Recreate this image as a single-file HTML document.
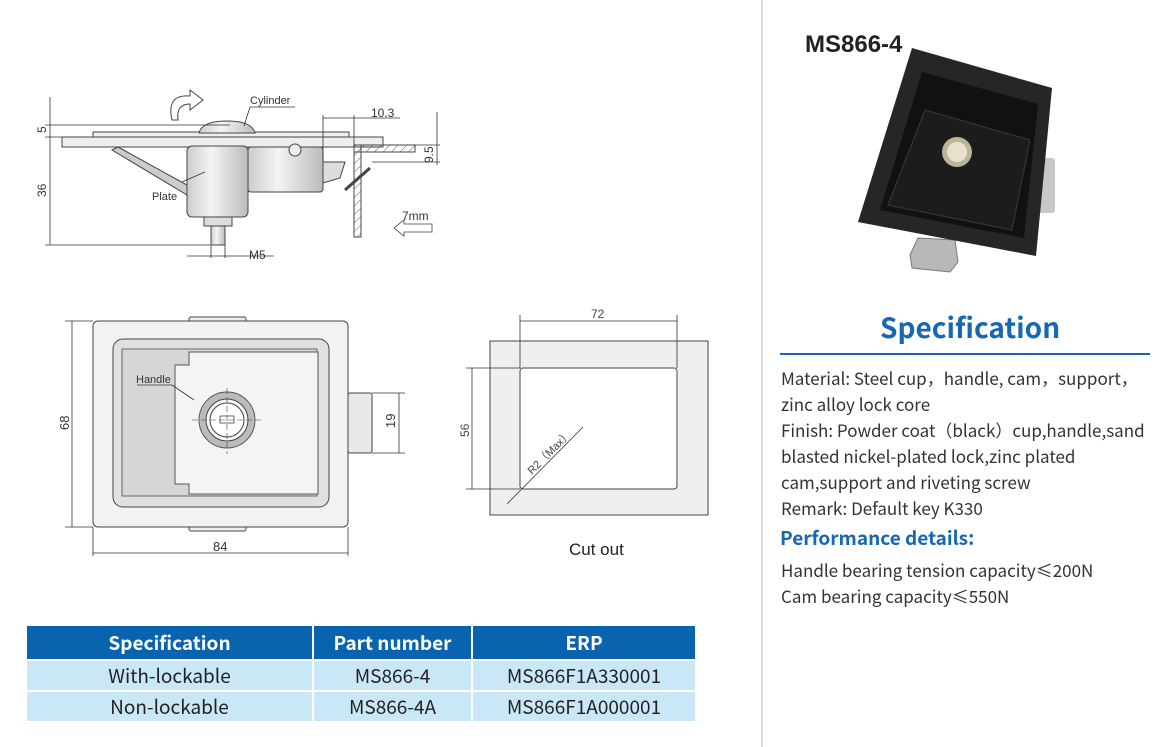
<!DOCTYPE html>
<html><head><meta charset="utf-8"><style>
body{margin:0;width:1158px;height:747px;background:#fff;overflow:hidden;position:relative;font-family:"Liberation Sans",sans-serif}
.t{position:absolute;white-space:nowrap}
.sp{left:781px;font-size:17px;color:#333;font-family:"Noto Sans CJK SC",sans-serif;line-height:22px}
table{position:absolute;left:27px;top:626px;border-collapse:separate;border-spacing:2px 2px;margin:-2px;font-family:"Noto Sans CJK SC",sans-serif}
td,th{padding:0;text-align:center;font-size:19px;line-height:20px}
th{background:#0a63af;color:#fff;font-weight:bold;height:33px}
td{background:#c9e7f7;color:#222;height:29px}
</style></head><body>
<div style="position:absolute;left:761px;top:0;width:2px;height:747px;background:#ddd"></div>

<svg width="760" height="600" style="position:absolute;left:0;top:0" font-family="Liberation Sans" font-size="11" fill="none" stroke="#444">
<defs><linearGradient id="g" x1="0" x2="1"><stop offset="0" stop-color="#ccc"/><stop offset=".4" stop-color="#f4f4f4"/><stop offset="1" stop-color="#bbb"/></linearGradient>
<pattern id="h" width="6" height="6" patternUnits="userSpaceOnUse" patternTransform="rotate(45)"><line x1="0" y1="0" x2="0" y2="6" stroke="#666" stroke-width="1"/></pattern></defs>
<rect x="93" y="132" width="256" height="5" fill="#eee"/>
<path d="M199 133 Q202 121 227 121 Q252 121 255 133Z" fill="url(#g)"/>
<rect x="62" y="137" width="321" height="10" fill="#eee"/>
<path d="M118 147 L187 185 L187 195 L112 150Z" fill="#ccc"/>
<rect x="248" y="147" width="75" height="45" fill="url(#g)" rx="3"/>
<circle cx="295" cy="150" r="6" fill="#eee"/>
<rect x="187" y="146" width="61" height="71" rx="5" fill="url(#g)"/>
<rect x="204" y="217" width="28" height="9" fill="#ddd"/>
<rect x="211" y="226" width="14" height="19" fill="url(#g)"/>
<path d="M323 162 L345 162 L340 178 L323 183Z" fill="#ddd"/>
<rect x="354" y="145" width="61" height="7" fill="url(#h)"/>
<rect x="354" y="145" width="7" height="92" fill="url(#h)"/>
<line x1="345" y1="190" x2="370" y2="168" stroke-width="3"/>
<g stroke="#333" stroke-width="0.8">
<line x1="50" y1="97" x2="50" y2="245"/><line x1="45" y1="125" x2="230" y2="125"/><line x1="45" y1="137" x2="62" y2="137"/><line x1="45" y1="245" x2="210" y2="245"/>
<line x1="323" y1="115" x2="323" y2="162"/><line x1="354" y1="115" x2="354" y2="145"/><line x1="323" y1="118" x2="400" y2="118"/>
<line x1="437" y1="112" x2="437" y2="165"/><line x1="415" y1="145" x2="440" y2="145"/><line x1="372" y1="162" x2="440" y2="162"/>
<line x1="211" y1="245" x2="211" y2="258"/><line x1="225" y1="245" x2="225" y2="258"/><line x1="187" y1="256" x2="274" y2="256"/>
<line x1="244" y1="126" x2="250" y2="107"/><line x1="250" y1="107" x2="295" y2="107"/><line x1="182" y1="182" x2="205" y2="172"/>
</g>
<path d="M404 224 L432 224 L432 232 L404 232 L404 236 L394 228 L404 220Z" stroke-width="0.8"/>
<path d="M172 120 Q166 94 190 96 L190 90 L203 100 L190 110 L190 104 Q176 104 178 120Z" stroke-width="1"/>
<g fill="#333" stroke="none">
<text x="250" y="104">Cylinder</text><text x="152" y="200">Plate</text>
<text x="371" y="117" font-size="12">10.3</text><text x="402" y="220" font-size="12">7mm</text><text x="249" y="259" font-size="12">M5</text>
<text transform="translate(46,133) rotate(-90)" font-size="12">5</text>
<text transform="translate(46,197) rotate(-90)" font-size="12">36</text>
<text transform="translate(433,163) rotate(-90)" font-size="12">9.5</text>
</g>
<rect x="189" y="317" width="57" height="6" rx="2" fill="#eee"/><rect x="189" y="525" width="57" height="6" rx="2" fill="#eee"/>
<rect x="93" y="321" width="255" height="206" rx="5" fill="#f2f2f2"/>
<rect x="113" y="339" width="216" height="168" rx="10" fill="#e0e0e0"/>
<rect x="122" y="349" width="195" height="147" fill="#d6d6d6" stroke="#666"/>
<path d="M189 352 L318 352 L318 494 L189 494 L189 484 L175 484 L175 365 L189 365Z" fill="#f4f4f4" stroke="#555"/>
<rect x="348" y="393" width="24" height="60" rx="2" fill="#e8e8e8"/>
<circle cx="227" cy="420" r="28" fill="#bbb" stroke="#555"/><circle cx="227" cy="420" r="21" fill="#f6f6f6"/><circle cx="227" cy="420" r="17" fill="#fff"/>
<rect x="220" y="416" width="14" height="7" stroke-width="0.8"/>
<g stroke-dasharray="6 3" stroke-width="0.6"><line x1="192" y1="420" x2="262" y2="420"/><line x1="227" y1="388" x2="227" y2="454"/></g>
<g stroke="#333" stroke-width="0.8">
<line x1="72" y1="321" x2="72" y2="527"/><line x1="65" y1="321" x2="93" y2="321"/><line x1="65" y1="527" x2="93" y2="527"/>
<line x1="93" y1="527" x2="93" y2="556"/><line x1="348" y1="527" x2="348" y2="556"/><line x1="93" y1="553" x2="348" y2="553"/>
<line x1="399" y1="393" x2="399" y2="453"/><line x1="372" y1="393" x2="405" y2="393"/><line x1="372" y1="453" x2="405" y2="453"/>
<line x1="137" y1="385" x2="172" y2="385"/><line x1="172" y1="385" x2="194" y2="400"/>
</g>
<g fill="#333" stroke="none"><text x="136" y="383" font-size="11">Handle</text>
<text x="213" y="551" font-size="13">84</text>
<text transform="translate(69,430) rotate(-90)" font-size="13">68</text>
<text transform="translate(395,428) rotate(-90)" font-size="13">19</text></g>
<rect x="490" y="341" width="218" height="174" fill="#efefef"/>
<rect x="520" y="368" width="157" height="121" rx="3" fill="#fff"/>
<g stroke="#333" stroke-width="0.8">
<line x1="520" y1="315" x2="520" y2="368"/><line x1="677" y1="315" x2="677" y2="368"/><line x1="520" y1="321" x2="677" y2="321"/>
<line x1="466" y1="368" x2="520" y2="368"/><line x1="466" y1="489" x2="520" y2="489"/><line x1="472" y1="368" x2="472" y2="489"/>
<line x1="507" y1="504" x2="583" y2="427"/></g>
<g fill="#444" stroke="none"><text x="591" y="318" font-size="12">72</text>
<text transform="translate(469,437) rotate(-90)" font-size="12">56</text>
<text transform="translate(532,475) rotate(-45)" font-size="11">R2（Max）</text>
<text x="569" y="555" font-size="17" fill="#222">Cut out</text></g>
</svg>

<div class="t" style="left:805px;top:31px;font-size:24px;font-weight:bold;color:#222">MS866-4</div>
<svg width="1158" height="300" style="position:absolute;left:0;top:0">
<rect x="1035" y="158" width="20" height="55" rx="3" fill="#c8c8c8"/>
<path d="M918 238 L955 240 L958 262 L950 272 L912 268 L910 255Z" fill="#b8b8b8" stroke="#777"/>
<path d="M912 48 L1052 88 L1036 256 L858 222Z" fill="#262626"/>
<path d="M922 72 L1038 104 L1024 238 L880 210Z" fill="#111"/>
<path d="M925 110 L1030 140 L1012 230 L888 205Z" fill="#1c1c1c" stroke="#3a3a3a"/>
<circle cx="957" cy="152" r="15" fill="#bdb59a"/><circle cx="957" cy="152" r="10" fill="#e8e2cc"/>
</svg>

<div class="t" style="left:880px;top:307px;font-size:28px;font-weight:bold;color:#1767b3;font-family:'Noto Sans CJK SC',sans-serif;line-height:40px">Specification</div>
<div style="position:absolute;left:780px;top:353px;width:370px;height:2px;background:#1767b3"></div>
<div class="t sp" style="top:367px">Material: Steel cup，handle, cam，support，</div>
<div class="t sp" style="top:393px">zinc alloy lock core</div>
<div class="t sp" style="top:419px">Finish: Powder coat（black）cup,handle,sand</div>
<div class="t sp" style="top:445px">blasted nickel-plated lock,zinc plated</div>
<div class="t sp" style="top:471px">cam,support and riveting screw</div>
<div class="t sp" style="top:497px">Remark: Default key K330</div>
<div class="t" style="left:780px;top:524px;font-size:19px;font-weight:bold;color:#1767b3;font-family:'Noto Sans CJK SC',sans-serif;line-height:28px">Performance details:</div>
<div class="t sp" style="top:559px">Handle bearing tension capacity≤200N</div>
<div class="t sp" style="top:585px">Cam bearing capacity≤550N</div>

<table>
<tr><th style="width:285px">Specification</th><th style="width:157px">Part number</th><th style="width:222px">ERP</th></tr>
<tr><td>With-lockable</td><td>MS866-4</td><td>MS866F1A330001</td></tr>
<tr><td>Non-lockable</td><td>MS866-4A</td><td>MS866F1A000001</td></tr>
</table>
</body></html>
